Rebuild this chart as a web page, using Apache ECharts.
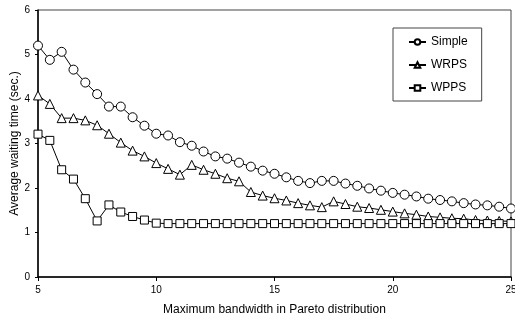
<!DOCTYPE html>
<html>
<head>
<meta charset="utf-8">
<script src="https://cdn.jsdelivr.net/npm/echarts@6/dist/echarts.min.js"></script>
<style>
html, body { margin: 0; padding: 0; background: #fff; }
#chart { width: 515px; height: 320px; }
</style>
</head>
<body>
<div id="chart"></div>
<script>
// bandwidth values on the x axis
var bandwidth = [5, 5.5, 6, 6.5, 7, 7.5, 8, 8.5, 9, 9.5, 10, 10.5, 11, 11.5, 12, 12.5, 13, 13.5, 14, 14.5,
	15, 15.5, 16, 16.5, 17, 17.5, 18, 18.5, 19, 19.5, 20, 20.5, 21, 21.5, 22, 22.5, 23, 23.5, 24, 24.5, 25];
var simple = [5.20, 4.88, 5.06, 4.66, 4.37, 4.11, 3.83, 3.83, 3.59, 3.40, 3.22, 3.18, 3.03, 2.95, 2.82, 2.71, 2.66, 2.57, 2.48, 2.39,
	2.32, 2.24, 2.16, 2.11, 2.16, 2.16, 2.10, 2.05, 1.99, 1.94, 1.89, 1.85, 1.81, 1.76, 1.73, 1.70, 1.66, 1.63, 1.61, 1.58, 1.54];
var wrps = [4.08, 3.89, 3.57, 3.57, 3.52, 3.41, 3.22, 3.02, 2.84, 2.71, 2.56, 2.43, 2.30, 2.52, 2.41, 2.32, 2.22, 2.15, 1.91, 1.83,
	1.77, 1.72, 1.66, 1.61, 1.57, 1.70, 1.64, 1.58, 1.55, 1.51, 1.47, 1.43, 1.40, 1.36, 1.34, 1.32, 1.31, 1.28, 1.27, 1.26, 1.25];
var wpps = [3.21, 3.07, 2.41, 2.20, 1.76, 1.26, 1.62, 1.46, 1.36, 1.28, 1.21, 1.2, 1.2, 1.2, 1.2, 1.2, 1.2, 1.2, 1.2, 1.2,
	1.2, 1.2, 1.2, 1.2, 1.2, 1.2, 1.2, 1.2, 1.2, 1.2, 1.2, 1.2, 1.2, 1.2, 1.2, 1.2, 1.2, 1.2, 1.2, 1.2, 1.2];
var seriesNames = ['Simple', 'WRPS', 'WPPS'];
var xTicks = [5, 10, 15, 20, 25];
var yTicks = [0, 1, 2, 3, 4, 5, 6];

var font = '"Liberation Sans", Arial, sans-serif';

function pairs(ys) {
	return bandwidth.map(function (x, i) { return [x, ys[i]]; });
}

function lineSeries(name, ys, symbol, size) {
	return {
		name: name,
		type: 'line',
		data: pairs(ys),
		symbol: symbol,
		symbolSize: size,
		showAllSymbol: true,
		animation: false,
		lineStyle: { color: '#000', width: 1 },
		itemStyle: { color: '#fff', borderColor: '#000', borderWidth: 1 }
	};
}

var myChart = echarts.init(document.getElementById('chart'));
var option = {
	backgroundColor: '#fff',
	grid: {
		left: 38,
		right: 4,
		top: 10,
		bottom: 43,
		outerBoundsMode: 'none',
		containLabel: false,
		show: true,
		borderColor: '#444',
		borderWidth: 1
	},
	legend: {
		orient: 'vertical',
		left: 393,
		top: 28,
		width: 89,
		padding: [8, 14, 7, 15],
		itemGap: 11,
		itemWidth: 17,
		itemHeight: 7,
		borderColor: '#444',
		borderWidth: 1,
		data: seriesNames,
		textStyle: { color: '#000', fontSize: 12, fontFamily: font, padding: [0, 10, 0, 0] }
	},
	xAxis: {
		type: 'value',
		min: xTicks[0],
		max: xTicks[xTicks.length - 1],
		interval: 5,
		name: 'Maximum bandwidth in Pareto distribution',
		nameLocation: 'middle',
		nameGap: 27,
		nameMoveOverlap: false,
		nameTextStyle: { color: '#000', fontSize: 12, fontFamily: font },
		axisLine: { lineStyle: { color: '#000', width: 1.5 } },
		axisTick: { inside: false, length: 4, lineStyle: { color: '#000' } },
		axisLabel: { color: '#000', fontSize: 10, fontFamily: font, margin: 8 },
		splitLine: { show: false }
	},
	yAxis: {
		type: 'value',
		min: yTicks[0],
		max: yTicks[yTicks.length - 1],
		interval: 1,
		name: 'Average waiting time (sec.)',
		nameLocation: 'middle',
		nameGap: 17,
		nameMoveOverlap: false,
		nameTextStyle: { color: '#000', fontSize: 12, fontFamily: font },
		axisLine: { show: true, lineStyle: { color: '#000', width: 1.5 } },
		axisTick: { show: true, length: 3, lineStyle: { color: '#000' } },
		axisLabel: { color: '#000', fontSize: 10, fontFamily: font, margin: 8 },
		splitLine: { show: false }
	},
	series: [
		lineSeries(seriesNames[0], simple, 'circle', 9),
		lineSeries(seriesNames[1], wrps, 'triangle', 9),
		lineSeries(seriesNames[2], wpps, 'rect', 8)
	]
};
myChart.setOption(option);
</script>
</body>
</html>
